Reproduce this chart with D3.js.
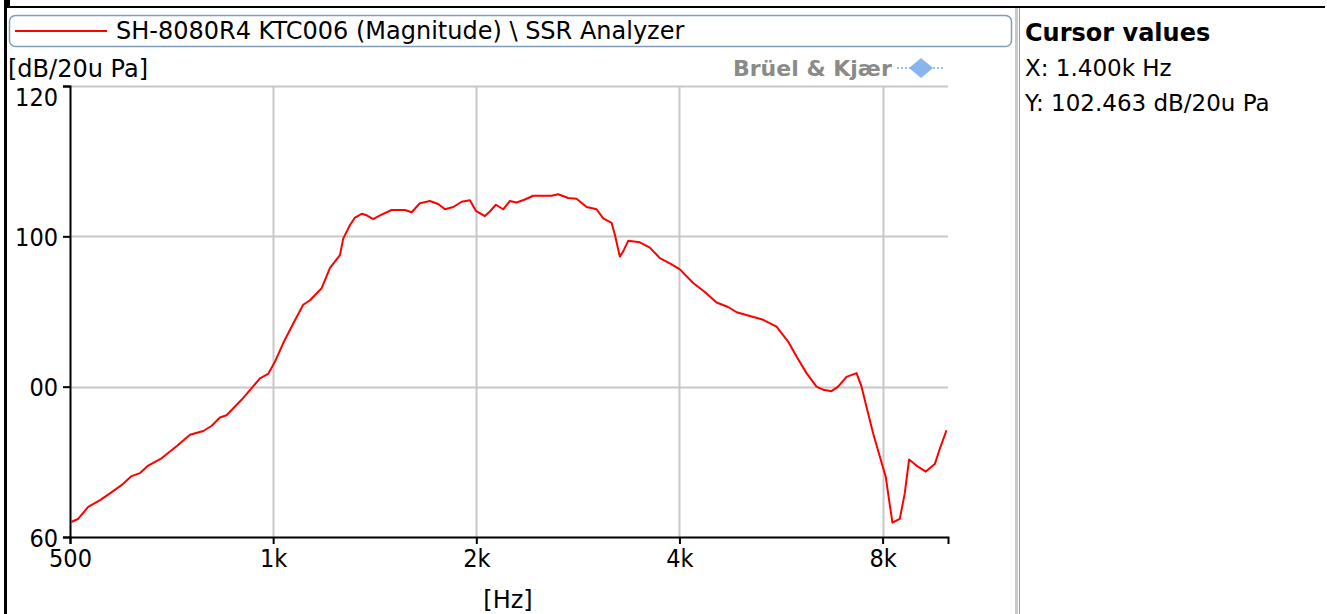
<!DOCTYPE html>
<html>
<head>
<meta charset="utf-8">
<script src="https://cdn.jsdelivr.net/npm/d3@7"></script>
<style>
  body { margin: 0; background: #fff; }
  svg text { font-family: "DejaVu Sans", sans-serif; fill: #000; }
  svg .tick text { font-family: "DejaVu Sans Condensed", "DejaVu Sans", sans-serif; }
</style>
</head>
<body>
<div id="chart"></div>
<script>
var freqHz = [502, 514, 532, 554, 573, 596, 617, 635, 653, 684, 720, 753, 788, 811, 834, 853, 903, 956, 983,
  1006, 1035, 1071, 1108, 1134, 1180, 1214, 1256, 1270, 1300, 1322, 1353, 1376, 1407, 1440, 1498, 1568, 1604,
  1650, 1707, 1756, 1797, 1849, 1902, 1957, 1997, 2059, 2095, 2138, 2192, 2243, 2295, 2361, 2428, 2586, 2645,
  2736, 2816, 2914, 3015, 3083, 3173, 3209, 3264, 3301, 3358, 3494, 3616, 3741, 3871, 4006, 4192, 4362, 4540,
  4723, 4861, 5087, 5322, 5571, 5795, 5964, 6171, 6385, 6530, 6720, 6873, 7073, 7319, 7445, 7573, 7745, 7924,
  8087, 8179, 8274, 8482, 8628, 8756, 8980, 9270, 9559, 9747, 9949];
var levelDb = [62.0, 62.4, 64.0, 64.9, 65.8, 66.9, 68.1, 68.5, 69.5, 70.5, 72.1, 73.6, 74.1, 74.8, 75.9, 76.2, 78.5, 81.1, 81.7,
  83.3, 85.8, 88.4, 90.9, 91.5, 93.1, 95.8, 97.5, 99.7, 101.5, 102.5, 103.0, 102.8, 102.3, 102.8, 103.5, 103.5, 103.2,
  104.4, 104.7, 104.3, 103.6, 103.9, 104.6, 104.8, 103.4, 102.7, 103.3, 104.2, 103.6, 104.7, 104.5, 104.9, 105.4, 105.4, 105.6,
  105.1, 105.0, 103.9, 103.6, 102.4, 101.8, 100.2, 97.3, 98.0, 99.4, 99.2, 98.5, 97.1, 96.4, 95.6, 93.8, 92.6, 91.2,
  90.6, 89.9, 89.4, 88.9, 88.0, 86.0, 84.0, 81.8, 80.0, 79.6, 79.4, 80.0, 81.3, 81.8, 80.0, 77.3, 73.8, 70.7,
  68.0, 64.9, 61.9, 62.4, 65.8, 70.3, 69.5, 68.7, 69.7, 72.0, 74.2];

var xTicks = [500, 1000, 2000, 4000, 8000];
var xTickLabels = ["500", "1k", "2k", "4k", "8k"];
var yTicks = [60, 80, 100, 120];
var yTickLabels = ["60", "00", "100", "120"];

var seriesName = "SH-8080R4 KTC006 (Magnitude) \\ SSR Analyzer";
var yUnit = "[dB/20u Pa]";
var xUnit = "[Hz]";
var cursorLines = ["X: 1.400k Hz", "Y: 102.463 dB/20u Pa"];

var width = 1327,
    height = 614,
    plot = { left: 70, right: 948, top: 86, bottom: 537 };

var svg = d3.select("#chart").append("svg")
    .attr("width", width)
    .attr("height", height);

// window frame
svg.append("rect").attr("x", 4).attr("y", 6).attr("width", 1321).attr("height", 2).attr("fill", "#000");
svg.append("rect").attr("x", 4).attr("y", 0).attr("width", 3).attr("height", height).attr("fill", "#000");
svg.append("rect").attr("x", 4).attr("y", 0).attr("width", 6).attr("height", 8).attr("fill", "#000");

// divider to the cursor panel
svg.append("line").attr("x1", 1016.5).attr("x2", 1016.5).attr("y1", 8).attr("y2", height)
    .attr("stroke", "#c8c8c8").attr("stroke-width", 3);
svg.append("line").attr("x1", 1019.5).attr("x2", 1019.5).attr("y1", 8).attr("y2", height)
    .attr("stroke", "#9a9a9a").attr("stroke-width", 1);

var x = d3.scaleLog().domain([500, 10000]).range([plot.left, plot.right]);
var y = d3.scaleLinear().domain([60, 120]).range([plot.bottom, plot.top]);

// grid
var grid = svg.append("g").attr("class", "grid");
grid.selectAll(".gx").data(xTicks.slice(1)).enter().append("line")
    .attr("x1", d => Math.round(x(d)) + 0.5).attr("x2", d => Math.round(x(d)) + 0.5)
    .attr("y1", plot.top).attr("y2", plot.bottom)
    .attr("stroke", "#c8c8c8").attr("stroke-width", 2);
grid.selectAll(".gy").data(yTicks.slice(1)).enter().append("line")
    .attr("x1", plot.left).attr("x2", plot.right)
    .attr("y1", d => Math.round(y(d)) + 0.5).attr("y2", d => Math.round(y(d)) + 0.5)
    .attr("stroke", "#c8c8c8").attr("stroke-width", 2);

// axes
var xAxis = d3.axisBottom(x).tickValues(xTicks).tickSize(7).tickFormat((d, i) => xTickLabels[i]);
var yAxis = d3.axisLeft(y).tickValues(yTicks).tickSize(7).tickFormat((d, i) => yTickLabels[i]);

var gx = svg.append("g").attr("transform", "translate(0," + plot.bottom + ")").call(xAxis);
var gy = svg.append("g").attr("transform", "translate(" + plot.left + ",0)").call(yAxis);

[gx, gy].forEach(function(g) {
  g.select(".domain").attr("stroke", "#000").attr("stroke-width", 2);
  g.selectAll(".tick line").attr("stroke", "#000").attr("stroke-width", 2);
  g.selectAll(".tick text").style("font-size", "25px").attr("fill", "#000");
});
gx.selectAll(".tick text").attr("y", 12).attr("dy", "0.71em");
gy.selectAll(".tick text").attr("x", -12)
    .attr("dy", "0.36em")
    .attr("transform", d => d === 120 ? "translate(0,10)" : null);

svg.append("text").attr("x", 508).attr("y", 608).attr("text-anchor", "middle")
    .style("font-size", "24px").text(xUnit);
svg.append("text").attr("x", 8).attr("y", 77)
    .style("font-size", "24px").text(yUnit);

// the measured curve
var line = d3.line().x((d, i) => x(freqHz[i])).y(d => y(d));
svg.append("path").datum(levelDb)
    .attr("fill", "none").attr("stroke", "#ff0000").attr("stroke-width", 2)
    .attr("stroke-linejoin", "round").attr("d", line);

// legend box
svg.append("rect").attr("x", 9.5).attr("y", 15.5).attr("width", 1002).attr("height", 31).attr("rx", 6)
    .attr("fill", "#fff").attr("stroke", "#7f9db9").attr("stroke-width", 1.5);
svg.append("line").attr("x1", 15).attr("x2", 107).attr("y1", 31).attr("y2", 31)
    .attr("stroke", "#ff0000").attr("stroke-width", 2);
svg.append("text").attr("x", 116).attr("y", 39).style("font-size", "24px").text(seriesName);

// maker logo
svg.append("text").attr("x", 733).attr("y", 76).style("font-size", "22px").style("font-weight", "bold")
    .style("fill", "#8a8a8a").text("Brüel & Kjær");
var logo = svg.append("g").attr("transform", "translate(921,68)");
logo.append("line").attr("x1", -24).attr("x2", 24).attr("stroke", "#9cc0f0")
    .attr("stroke-width", 2).attr("stroke-dasharray", "2,2");
logo.append("path").attr("d", "M-12,0 L0,-10 L12,0 L0,10 Z").attr("fill", "#8ab4f0");

// cursor panel
svg.append("text").attr("x", 1025).attr("y", 41).style("font-size", "24px").style("font-weight", "bold")
    .text("Cursor values");
svg.selectAll(".cursor").data(cursorLines).enter().append("text")
    .attr("x", 1025).attr("y", (d, i) => 76 + i * 35).style("font-size", "23px").text(d => d);
</script>
</body>
</html>
